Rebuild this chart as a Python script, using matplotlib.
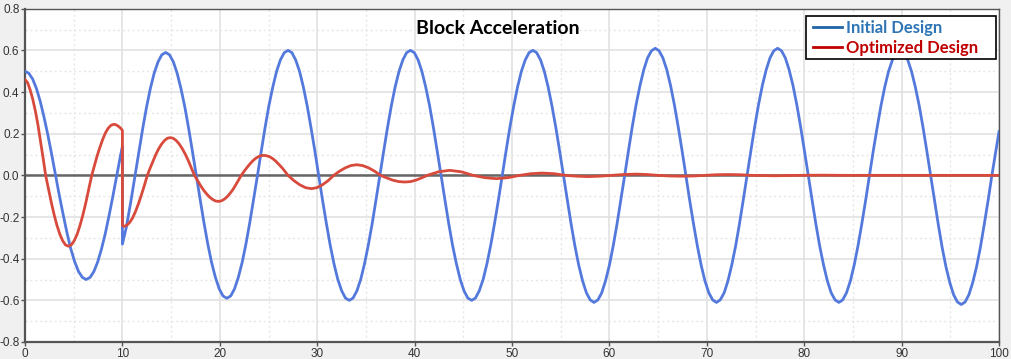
import matplotlib
matplotlib.use("Agg")
import matplotlib.pyplot as plt
from matplotlib.lines import Line2D
from matplotlib.patches import Rectangle
from matplotlib.ticker import MultipleLocator

# ---------------- data ----------------
t_initial = [
    0.00, 0.39, 0.79, 1.18, 1.57, 1.96, 2.36, 2.75, 3.14, 3.53, 3.93, 4.32, 4.71, 5.11, 5.50, 5.89,
    6.28, 6.68, 7.07, 7.46, 7.85, 8.25, 8.64, 9.03, 9.42, 9.82, 10.00,
    10.00, 10.40, 10.85,
    11.30, 11.69, 12.09, 12.48, 12.87, 13.26, 13.66, 14.05, 14.44, 14.83, 15.23, 15.62, 16.01, 16.41, 16.80, 17.19,
    17.58, 17.98, 18.37, 18.76, 19.15, 19.55, 19.94, 20.33, 20.72, 21.12, 21.51, 21.90, 22.30, 22.69, 23.08, 23.47,
    23.87, 24.26, 24.65, 25.04, 25.44, 25.83, 26.22, 26.62, 27.01, 27.40, 27.79, 28.19, 28.58, 28.97, 29.36, 29.76,
    30.15, 30.54, 30.94, 31.33, 31.72, 32.11, 32.51, 32.90, 33.29, 33.68, 34.08, 34.47, 34.86, 35.25, 35.65, 36.04,
    36.43, 36.83, 37.22, 37.61, 38.00, 38.40, 38.79, 39.18, 39.57, 39.97, 40.36, 40.75, 41.14, 41.54, 41.93, 42.32,
    42.72, 43.11, 43.50, 43.89, 44.29, 44.68, 45.07, 45.46, 45.86, 46.25, 46.64, 47.04, 47.43, 47.82, 48.21, 48.61,
    49.00, 49.39, 49.78, 50.18, 50.57, 50.96, 51.36, 51.75, 52.14, 52.53, 52.93, 53.32, 53.71, 54.10, 54.50, 54.89,
    55.28, 55.68, 56.07, 56.46, 56.85, 57.25, 57.64, 58.03, 58.42, 58.82, 59.21, 59.60, 60.00, 60.39, 60.78, 61.17,
    61.57, 61.96, 62.35, 62.74, 63.14, 63.53, 63.92, 64.32, 64.71, 65.10, 65.49, 65.89, 66.28, 66.67, 67.06, 67.46,
    67.85, 68.24, 68.64, 69.03, 69.42, 69.81, 70.21, 70.60, 70.99, 71.38, 71.78, 72.17, 72.56, 72.96, 73.35, 73.74,
    74.13, 74.53, 74.92, 75.31, 75.70, 76.10, 76.49, 76.88, 77.27, 77.67, 78.06, 78.45, 78.85, 79.24, 79.63, 80.02,
    80.42, 80.81, 81.20, 81.59, 81.99, 82.38, 82.77, 83.17, 83.56, 83.95, 84.34, 84.74, 85.13, 85.52, 85.91, 86.31,
    86.70, 87.09, 87.49, 87.88, 88.27, 88.66, 89.06, 89.45, 89.84, 90.23, 90.63, 91.02, 91.41, 91.81, 92.20, 92.59,
    92.98, 93.38, 93.77, 94.16, 94.55, 94.95, 95.34, 95.73, 96.13, 96.52, 96.91, 97.30, 97.70, 98.09, 98.48, 98.88,
    99.27, 100.00]
a_initial = [
    0.500, 0.490, 0.462, 0.416, 0.354, 0.278, 0.191, 0.098, 0.000, -0.098, -0.191, -0.278, -0.354, -0.416, -0.462, -0.490,
    -0.500, -0.490, -0.462, -0.416, -0.354, -0.278, -0.191, -0.098, 0.000, 0.098, 0.140,
    -0.330, -0.250, -0.130,
    0.000, 0.115, 0.226, 0.328, 0.417, 0.490, 0.545, 0.579, 0.590, 0.579, 0.545, 0.490, 0.417, 0.328, 0.226, 0.115,
    0.000, -0.115, -0.226, -0.328, -0.417, -0.490, -0.545, -0.579, -0.590, -0.579, -0.545, -0.490, -0.417, -0.328, -0.226, -0.115,
    0.000, 0.117, 0.230, 0.334, 0.424, 0.499, 0.554, 0.589, 0.600, 0.589, 0.554, 0.499, 0.424, 0.334, 0.230, 0.117,
    0.000, -0.117, -0.230, -0.334, -0.424, -0.499, -0.554, -0.589, -0.600, -0.589, -0.554, -0.499, -0.424, -0.334, -0.230, -0.117,
    0.000, 0.117, 0.230, 0.334, 0.424, 0.499, 0.554, 0.589, 0.600, 0.589, 0.554, 0.499, 0.424, 0.334, 0.230, 0.117,
    0.000, -0.117, -0.230, -0.334, -0.424, -0.499, -0.554, -0.589, -0.600, -0.589, -0.554, -0.499, -0.424, -0.334, -0.230, -0.117,
    0.000, 0.117, 0.230, 0.334, 0.424, 0.499, 0.554, 0.589, 0.600, 0.589, 0.554, 0.499, 0.424, 0.334, 0.230, 0.117,
    0.000, -0.119, -0.234, -0.339, -0.431, -0.507, -0.564, -0.598, -0.610, -0.598, -0.564, -0.507, -0.431, -0.339, -0.234, -0.119,
    0.000, 0.119, 0.234, 0.339, 0.431, 0.507, 0.564, 0.598, 0.610, 0.598, 0.564, 0.507, 0.431, 0.339, 0.234, 0.119,
    0.000, -0.119, -0.234, -0.339, -0.431, -0.507, -0.564, -0.598, -0.610, -0.598, -0.564, -0.507, -0.431, -0.339, -0.234, -0.119,
    0.000, 0.119, 0.234, 0.339, 0.431, 0.507, 0.564, 0.598, 0.610, 0.598, 0.564, 0.507, 0.431, 0.339, 0.234, 0.119,
    0.000, -0.119, -0.234, -0.339, -0.431, -0.507, -0.564, -0.598, -0.610, -0.598, -0.564, -0.507, -0.431, -0.339, -0.234, -0.119,
    0.000, 0.117, 0.230, 0.334, 0.424, 0.499, 0.554, 0.589, 0.600, 0.589, 0.554, 0.499, 0.424, 0.334, 0.230, 0.117,
    0.000, -0.121, -0.237, -0.345, -0.438, -0.515, -0.573, -0.608, -0.620, -0.608, -0.573, -0.515, -0.438, -0.345, -0.237, -0.121,
    0.000, 0.210]

t_optimized = [
    0.00, 0.27, 0.53, 0.80, 1.06, 1.33, 1.59, 1.86, 2.12,
    2.41, 2.70, 2.99, 3.28, 3.58, 3.87, 4.16, 4.45,
    4.75, 5.05, 5.35, 5.65, 5.95, 6.25, 6.55, 6.85,
    7.13, 7.41, 7.70, 7.98, 8.26, 8.54, 8.82, 9.10, 9.33, 9.55, 9.78, 10.00,
    10.00, 10.15, 10.45, 10.75, 11.05, 11.35, 11.65, 11.95, 12.26, 12.56,
    12.85, 13.15, 13.44, 13.73, 14.02, 14.32, 14.61, 14.90,
    15.21, 15.53, 15.84, 16.15, 16.46, 16.78, 17.09, 17.40,
    17.71, 18.01, 18.32, 18.63, 18.94, 19.24, 19.55, 19.85,
    20.14, 20.44, 20.73, 21.03, 21.32, 21.61, 21.91, 22.20,
    22.49, 22.78, 23.06, 23.35, 23.64, 23.93, 24.21, 24.50,
    24.81, 25.13, 25.44, 25.75, 26.06, 26.38, 26.69, 27.00,
    27.60, 28.20, 28.80, 29.40, 29.98, 30.55, 31.13, 31.70,
    32.29, 32.88, 33.46, 34.05, 34.66, 35.28, 35.89, 36.50,
    37.13, 37.75, 38.38, 39.00, 39.58, 40.15, 40.73, 41.30,
    42.45, 43.60, 44.80, 46.00, 47.20, 48.40, 49.60, 50.80,
    51.95, 53.10, 54.30, 55.50, 56.65, 57.80, 59.00, 60.20,
    61.45, 62.70, 63.85, 65.00, 66.20, 67.40, 68.60, 69.80,
    71.00, 72.20, 73.40, 74.60, 75.80, 77.00, 78.20, 79.40,
    81.80, 84.20, 100.00]
a_optimized = [
    0.460, 0.445, 0.410, 0.365, 0.310, 0.242, 0.165, 0.083, 0.000,
    -0.066, -0.130, -0.189, -0.240, -0.283, -0.314, -0.334, -0.340,
    -0.334, -0.314, -0.283, -0.240, -0.189, -0.130, -0.066, 0.000,
    0.048, 0.094, 0.136, 0.173, 0.204, 0.226, 0.240, 0.245, 0.243, 0.237, 0.228, 0.216,
    -0.240, -0.245, -0.240, -0.226, -0.204, -0.173, -0.136, -0.094, -0.048, 0.000,
    0.035, 0.069, 0.101, 0.128, 0.150, 0.167, 0.178, 0.181,
    0.178, 0.167, 0.150, 0.128, 0.101, 0.069, 0.035, 0.000,
    -0.024, -0.048, -0.070, -0.088, -0.104, -0.115, -0.123, -0.125,
    -0.123, -0.115, -0.104, -0.088, -0.070, -0.048, -0.024, 0.000,
    0.019, 0.037, 0.053, 0.068, 0.080, 0.089, 0.094, 0.096,
    0.094, 0.089, 0.080, 0.068, 0.053, 0.037, 0.019, 0.000,
    -0.025, -0.045, -0.059, -0.064, -0.059, -0.045, -0.025, 0.000,
    0.020, 0.036, 0.047, 0.051, 0.047, 0.036, 0.020, 0.000,
    -0.012, -0.023, -0.030, -0.032, -0.030, -0.023, -0.012, 0.000,
    0.017, 0.024, 0.017, 0.000, -0.011, -0.016, -0.011, 0.000,
    0.008, 0.011, 0.008, 0.000, -0.004, -0.006, -0.004, 0.000,
    0.004, 0.006, 0.004, 0.000, -0.003, -0.004, -0.003, 0.000,
    0.003, 0.004, 0.003, 0.000, -0.001, -0.002, -0.001, 0.000,
    0.001, 0.000, 0.000]

series_labels = ["Initial Design", "Optimized Design"]
title_text = "Block Acceleration"

# ---------------- figure ----------------
W, H = 1011, 359
plt.rcParams['font.family'] = ['Liberation Sans', 'DejaVu Sans']
fig = plt.figure(figsize=(W / 100, H / 100), dpi=100, facecolor='#f0f0f0')
ax = fig.add_axes([25 / W, 1 - 342 / H, 974 / W, 333.3 / H])
ax.set_facecolor('white')

ax.set_xlim(0, 100)
ax.set_ylim(-0.8, 0.8)
ax.xaxis.set_major_locator(MultipleLocator(10))
ax.xaxis.set_minor_locator(MultipleLocator(5))
ax.yaxis.set_major_locator(MultipleLocator(0.2))
ax.yaxis.set_minor_locator(MultipleLocator(0.1))
ax.set_yticklabels([f"{v:.1f}" for v in ax.get_yticks()])
ax.set_xticklabels([f"{int(v)}" for v in ax.get_xticks()])

ax.grid(which='major', color='#e2e2e2', linewidth=1.2, linestyle='-')
ax.grid(which='minor', color='#e6e6e6', linewidth=1.0, linestyle=(0, (1.5, 2)))
ax.set_axisbelow(True)

ax.tick_params(which='major', direction='out', length=3, width=1, color='#555555',
               labelsize=8.5, labelcolor='#333333', pad=1)
ax.tick_params(which='minor', length=0)

for side, sp in ax.spines.items():
    sp.set_color('#555555')
    sp.set_linewidth(1.6 if side in ('left', 'bottom') else 1.0)

ax.axhline(0, color='#666666', linewidth=1.8, zorder=1.5)

ax.plot(t_initial, a_initial, color='#5479dc', linewidth=2.0, zorder=3)
ax.plot(t_optimized, a_optimized, color='#d84a3c', linewidth=2.0, zorder=4)

ax.text(0.485, 0.940, title_text, transform=ax.transAxes, ha='center', va='center',
        fontsize=14, fontweight='bold', family=['Lato', 'DejaVu Sans'], color='black')

# legend box
box = Rectangle((806 / W, 1 - 59 / H), 190 / W, 43 / H, transform=fig.transFigure,
                facecolor='white', edgecolor='black', linewidth=1.2, zorder=5)
fig.add_artist(box)
handles = [Line2D([], [], color='#2063a6', linewidth=2.0),
           Line2D([], [], color='#c00000', linewidth=2.0)]
leg = fig.legend(handles, series_labels, loc='upper left', bbox_to_anchor=(813 / W, 1 - 20 / H),
                 frameon=False,
                 prop={'family': ['Lato', 'DejaVu Sans'], 'weight': 'bold', 'size': 12},
                 handlelength=1.75, handletextpad=0.25, borderpad=0, labelspacing=0.25,
                 borderaxespad=0)
for txt, c in zip(leg.get_texts(), ['#2e75b6', '#c00000']):
    txt.set_color(c)
leg.set_zorder(6)

fig.savefig('out.png', dpi=100, facecolor=fig.get_facecolor())
